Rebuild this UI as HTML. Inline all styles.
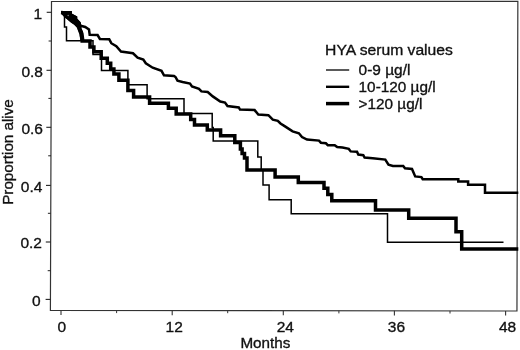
<!DOCTYPE html>
<html><head><meta charset="utf-8"><title>HYA serum values survival</title>
<style>
html,body{margin:0;padding:0;background:#fff;}
svg{display:block;}
.t{font-family:"Liberation Sans",sans-serif;font-size:15.5px;fill:#111;stroke:#111;stroke-width:0.35px;}
</style></head><body>
<svg width="520" height="350" viewBox="0 0 520 350">
<rect width="520" height="350" fill="#fff"/>
<polygon points="51.5,1.5 517.85,1.3 516.95,311 50.4,310.4" fill="none" stroke="#333" stroke-width="1.2"/>
<line x1="45.6" y1="299.4" x2="50.4" y2="299.4" stroke="#222" stroke-width="1.1"/>
<text x="40.6" y="305.6" text-anchor="end" class="t">0</text>
<line x1="47.7" y1="270.7" x2="50.5" y2="270.7" stroke="#222" stroke-width="1"/>
<line x1="45.8" y1="242.0" x2="50.6" y2="242.0" stroke="#222" stroke-width="1.1"/>
<text x="42.0" y="248.2" text-anchor="end" class="t">0.2</text>
<line x1="47.9" y1="213.3" x2="50.7" y2="213.3" stroke="#222" stroke-width="1"/>
<line x1="46.0" y1="185.4" x2="50.8" y2="185.4" stroke="#222" stroke-width="1.1"/>
<text x="42.4" y="191.6" text-anchor="end" class="t">0.4</text>
<line x1="48.2" y1="155.8" x2="51.0" y2="155.8" stroke="#222" stroke-width="1"/>
<line x1="46.3" y1="127.3" x2="51.1" y2="127.3" stroke="#222" stroke-width="1.1"/>
<text x="43.0" y="133.5" text-anchor="end" class="t">0.6</text>
<line x1="48.4" y1="98.4" x2="51.2" y2="98.4" stroke="#222" stroke-width="1"/>
<line x1="46.5" y1="70.3" x2="51.3" y2="70.3" stroke="#222" stroke-width="1.1"/>
<text x="43.0" y="76.5" text-anchor="end" class="t">0.8</text>
<line x1="48.6" y1="41.0" x2="51.4" y2="41.0" stroke="#222" stroke-width="1"/>
<line x1="46.7" y1="12.3" x2="51.5" y2="12.3" stroke="#222" stroke-width="1.1"/>
<text x="42.1" y="18.5" text-anchor="end" class="t">1</text>
<line x1="61.0" y1="310.4" x2="61.0" y2="315.0" stroke="#333" stroke-width="1.1"/>
<text x="61.7" y="332.2" text-anchor="middle" class="t">0</text>
<line x1="116.6" y1="310.5" x2="116.6" y2="313.1" stroke="#333" stroke-width="1"/>
<line x1="172.2" y1="310.6" x2="172.2" y2="315.2" stroke="#333" stroke-width="1.1"/>
<text x="174.2" y="332.2" text-anchor="middle" class="t">12</text>
<line x1="227.7" y1="310.6" x2="227.7" y2="313.2" stroke="#333" stroke-width="1"/>
<line x1="283.3" y1="310.7" x2="283.3" y2="315.3" stroke="#333" stroke-width="1.1"/>
<text x="285.3" y="332.2" text-anchor="middle" class="t">24</text>
<line x1="338.9" y1="310.8" x2="338.9" y2="313.4" stroke="#333" stroke-width="1"/>
<line x1="394.4" y1="310.8" x2="394.4" y2="315.4" stroke="#333" stroke-width="1.1"/>
<text x="396.4" y="332.2" text-anchor="middle" class="t">36</text>
<line x1="450.0" y1="310.9" x2="450.0" y2="313.5" stroke="#333" stroke-width="1"/>
<line x1="505.6" y1="311.0" x2="505.6" y2="315.6" stroke="#333" stroke-width="1.1"/>
<text x="507.6" y="332.2" text-anchor="middle" class="t">48</text>
<text x="240.4" y="348.2" class="t" textLength="50" lengthAdjust="spacingAndGlyphs">Months</text>
<text transform="translate(13.1,204.8) rotate(-90)" class="t" textLength="105.6" lengthAdjust="spacingAndGlyphs">Proportion alive</text>
<text x="325.1" y="54.7" class="t" textLength="127.8" lengthAdjust="spacingAndGlyphs">HYA serum values</text>
<line x1="326" y1="70" x2="349.2" y2="70" stroke="#000" stroke-width="1.3"/>
<line x1="326" y1="86.8" x2="349.2" y2="86.8" stroke="#000" stroke-width="2.4"/>
<line x1="326" y1="103.6" x2="349.2" y2="103.6" stroke="#000" stroke-width="3.5"/>
<text x="358.6" y="74.7" class="t" textLength="51.8" lengthAdjust="spacingAndGlyphs">0-9 µg/l</text>
<text x="358.6" y="91.8" class="t" textLength="77.0" lengthAdjust="spacingAndGlyphs">10-120 µg/l</text>
<text x="358.6" y="108.8" class="t" textLength="63.8" lengthAdjust="spacingAndGlyphs">&gt;120 µg/l</text>
<path d="M61,12.3 L64.5,12.3 L64.5,26.9 L66.5,26.9 L66.5,40.7 L93,40.7 L93,54.5 L101.5,54.5 L101.5,70.5 L127.9,70.5 L127.9,84.8 L147.1,84.8 L147.1,98.7 L184,98.7 L184,113.6 L212.2,113.6 L212.2,127.5 L213.2,127.5 L213.2,141.1 L257.8,141.1 L257.8,156.9 L261.2,156.9 L261.2,170 L263,170 L263,185.1 L269.1,185.1 L269.1,199.8 L291.2,199.8 L291.2,213.7 L387.5,213.7 L387.5,242.3 L503.5,242.3" fill="none" stroke="#000" stroke-width="1.5" stroke-linejoin="miter"/>
<path d="M61,12.3 L70.6,12.3 L70.8,14.3 L76,17.2 L76,19.2 L79.5,22.8 L80.3,25.8 L82.5,26.2 L85.2,27 L89,29.5 L89.7,34.9 L97.6,35.1 L99.9,38.9 L109.2,39.2 L111.3,43.2 L116.3,46.2 L121,51.6 L133,53.3 L137.6,57.6 L143.3,59.5 L145.8,63.3 L152.7,67.7 L161.5,70.8 L164,75.3 L174,75.9 L175.5,77 L177.5,80.7 L182.6,82 L190,83.6 L192,86.4 L199,88.9 L201.4,91.4 L207.7,92 L212.8,96.4 L220.3,101.5 L225,102.6 L227.5,106.1 L238.8,107.4 L240,109.5 L254.6,110.1 L258.3,114.5 L268.4,115.2 L272.8,119.6 L277.8,120.8 L280.5,123.5 L285,126.4 L292.6,131.4 L298.9,133.3 L302,137 L307,139.6 L319,140.6 L320.9,142.7 L325.9,143.3 L327.8,145.2 L334.7,145.2 L337.2,147.1 L342.5,147.6 L348.8,148.9 L350.7,151.4 L357,151.8 L358.3,154.6 L363.3,155.2 L364.6,157.5 L372.7,158.3 L385.3,159.6 L388.5,164.6 L392.9,165.9 L403.2,166 L405,168.3 L412,168.9 L415.2,176.4 L421.4,177.1 L422.7,179.2 L458.3,179.2 L458.3,181.6 L468.1,181.6 L468.1,184.8 L485,184.8 L485,192.8 L518.3,192.8" fill="none" stroke="#000" stroke-width="2.5" stroke-linejoin="miter"/>
<polygon points="61,11.1 71.8,11.1 71.8,13.7 77.2,16.4 77.2,18.7 80.6,22.2 81.4,25.2 81.4,28.3 77.4,28.3 74,24.6 71,22.5 67.5,19.6 64.8,17.5 61,13.7" fill="#000"/>
<path d="M61,12.5 L63,12.7 L66,16.3 L68.7,18.3 L72.2,21.3 L75.2,23.3 L78.6,26.5 L79.5,29.5 L81.3,32 L81.5,36 L82.2,37 L82.2,40.9 L90,40.9 L90,47 L93.9,47 L93.9,51.8 L101.2,51.8 L101.2,58.2 L107.3,58.2 L107.3,63.2 L110.7,63.2 L110.7,68.9 L113.9,68.9 L113.9,74 L118.9,74 L118.9,80.2 L127.9,80.2 L127.9,90.5 L133.6,90.5 L133.6,97 L149.6,97 L149.6,103.3 L168.4,103.3 L168.4,108.3 L176.2,108.3 L176.2,113.9 L190.7,113.9 L190.7,119.5 L194.5,119.5 L194.5,125.1 L207.3,125.1 L207.3,130.1 L220.6,130.1 L220.6,135.8 L234.8,135.8 L234.8,142.6 L240.4,142.6 L240.4,149 L242.1,149 L242.1,153.5 L244.5,153.5 L244.5,158 L247,158 L247,169.9 L275.1,169.9 L275.1,176.9 L298.3,176.9 L298.3,182.5 L324,182.5 L324,188.2 L327.8,188.2 L327.8,194.5 L331.8,194.5 L331.8,200.8 L375.5,200.8 L375.5,209.9 L408.7,209.9 L408.7,218.3 L456,218.3 L456,231.8 L461.7,231.8 L461.7,249.1 L518.3,249.1" fill="none" stroke="#000" stroke-width="3.5" stroke-linejoin="miter"/>
<circle cx="68.2" cy="15.5" r="0.8" fill="#777"/>
<path d="M78.6,25.5 L80.1,30.4 L81.5,33.9 L82.2,38.7 L82.2,41" fill="none" stroke="#000" stroke-width="4.2" stroke-linejoin="round"/>
</svg>
</body></html>
